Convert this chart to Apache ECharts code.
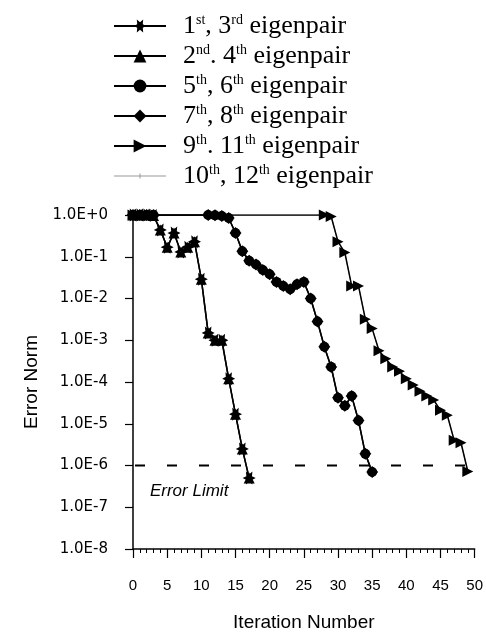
<!DOCTYPE html>
<html><head><meta charset="utf-8">
<script src="https://cdn.jsdelivr.net/npm/echarts@6/dist/echarts.min.js"></script>
<style>html,body{margin:0;padding:0;background:#fff}#c{width:486px;height:637px}</style>
</head><body><div id="c"></div>
<script>
// ---- data ----
const seriesNames = ['1st, 3rd eigenpair', '2nd, 4th eigenpair', '5th, 6th eigenpair',
  '7th, 8th eigenpair', '9th, 11th eigenpair', '10th, 12th eigenpair'];
const legendParts = [
  ['1', 'st', ', 3', 'rd'], ['2', 'nd', '. 4', 'th'], ['5', 'th', ', 6', 'th'],
  ['7', 'th', ', 8', 'th'], ['9', 'th', '. 11', 'th'], ['10', 'th', ', 12', 'th']];

// left curve: 1st/3rd and 2nd/4th eigenpairs
const iterA = [0, 1, 2, 3, 4, 5, 6, 7, 8, 9, 10, 11, 12, 13, 14, 15, 16, 17];
const errA1 = [1, 1, 1, 0.97, 0.44, 0.17, 0.37, 0.13, 0.17, 0.23, 0.029, 0.0015, 0.001, 0.001, 1.2e-4, 1.7e-5, 2.5e-6, 5e-7];
const errA2 = [1, 1, 1, 0.97, 0.44, 0.17, 0.37, 0.13, 0.17, 0.23, 0.029, 0.0015, 0.001, 0.001, 1.2e-4, 1.7e-5, 2.5e-6, 5e-7];

// middle curve: 5th/6th and 7th/8th eigenpairs
const iterB = [0, 1, 2, 3, 11, 12, 13, 14, 15, 16, 17, 18, 19, 20, 21, 22, 23, 24, 25, 26, 27, 28, 29, 30, 31, 32, 33, 34, 35];
const errB1 = [1, 1, 1, 1, 1, 0.98, 0.95, 0.85, 0.37, 0.135, 0.08, 0.065, 0.048, 0.038, 0.025, 0.02, 0.0166, 0.022, 0.025, 0.01, 0.0028, 7e-4, 2.3e-4, 4.2e-5, 2.7e-5, 4.6e-5, 1.2e-5, 1.9e-6, 7e-7];
const errB2 = [1, 1, 1, 1, 1, 0.98, 0.95, 0.85, 0.37, 0.135, 0.08, 0.065, 0.048, 0.038, 0.025, 0.02, 0.0166, 0.022, 0.025, 0.01, 0.0028, 7e-4, 2.3e-4, 4.2e-5, 2.7e-5, 4.6e-5, 1.2e-5, 1.9e-6, 7e-7];

// right curve: 9th/11th and 10th/12th eigenpairs
const iterC = [0, 1, 2, 3, 28, 29, 30, 31, 32, 33, 34, 35, 36, 37, 38, 39, 40, 41, 42, 43, 44, 45, 46, 47, 48, 49];
const errC1 = [1, 1, 1, 1, 1, 0.92, 0.23, 0.126, 0.02, 0.02, 0.0032, 0.0019, 5.6e-4, 3.6e-4, 2.3e-4, 1.8e-4, 1.2e-4, 8.5e-5, 6e-5, 4.6e-5, 3.7e-5, 2.1e-5, 1.6e-5, 4e-6, 3.5e-6, 7.2e-7];
const errC2 = [1, 1, 1, 1, 1, 0.92, 0.23, 0.126, 0.02, 0.02, 0.0032, 0.0019, 5.6e-4, 3.6e-4, 2.3e-4, 1.8e-4, 1.2e-4, 8.5e-5, 6e-5, 4.6e-5, 3.7e-5, 2.1e-5, 1.6e-5, 4e-6, 3.5e-6, 7.2e-7];

// error limit line
const limitIter = [0, 50];
const limitErr = [1e-6, 1e-6];
const limitLabel = 'Error Limit';

const xMin = 0, xMax = 50, xStep = 5;
const yMinExp = -8, yMaxExp = 0;

// ---- symbols ----
function starPath() {
  let d = '';
  for (let k = 0; k < 12; k++) {
    const r = k % 2 === 0 ? 10 : 5;
    const a = k * Math.PI / 6;
    const x = (10 + r * Math.cos(a)).toFixed(2), y = (10 + r * Math.sin(a)).toFixed(2);
    d += (k === 0 ? 'M' : 'L') + x + ',' + y;
  }
  return 'path://' + d + 'Z';
}
const STAR = starPath();
const RTRI = 'path://M0,0L10,5L0,10Z';
const PLUS = 'path://M4,0H6V4H10V6H6V10H4V6H0V4H4Z';

const pairs = (xs, ys) => xs.map((x, i) => [x, ys[i]]);

const legendRich = {};
seriesNames.forEach((n, i) => {
  const p = legendParts[i];
  legendRich[n] = '{m|' + p[0] + '}{s|' + p[1] + '}{m|' + p[2] + '}{s|' + p[3] + '}{m| eigenpair}';
});

function lineSeries(name, data, symbol, size, opts) {
  return Object.assign({
    name: name, type: 'line', data: data, symbol: symbol, symbolSize: size,
    showAllSymbol: true, z: 3,
    lineStyle: { color: '#000', width: 1.5 },
    itemStyle: { color: '#000' }
  }, opts || {});
}

const chart = echarts.init(document.getElementById('c'), null, { renderer: 'canvas' });
chart.setOption({
  animation: false,
  backgroundColor: '#fff',
  grid: { left: 133, right: 11, top: 215, bottom: 84, containLabel: false },
  legend: {
    orient: 'vertical', left: 108, top: 8,
    itemWidth: 52, itemHeight: 16, itemGap: 4,
    padding: 5,
    formatter: name => legendRich[name],
    textStyle: {
      padding: [0, 0, 0, 12],
      rich: {
        m: { fontFamily: '"Liberation Serif", "Times New Roman", serif', fontSize: 26, color: '#000', verticalAlign: 'bottom', lineHeight: 26 },
        s: { fontFamily: '"Liberation Serif", "Times New Roman", serif', fontSize: 14, color: '#000', verticalAlign: 'top', lineHeight: 14 }
      }
    },
    data: [seriesNames[0], seriesNames[1], seriesNames[2], seriesNames[3], seriesNames[4],
      { name: seriesNames[5], icon: 'path://M0,8H52V9H0Z M25.5,6H26.5V11H25.5Z M24,8H28V9H24Z' }]
  },
  xAxis: {
    type: 'value', min: xMin, max: xMax, interval: xStep,
    name: 'Iteration Number', nameLocation: 'middle', nameGap: 64,
    nameTextStyle: { fontFamily: '"Liberation Sans", Arial, sans-serif', fontSize: 19, color: '#000' },
    axisLine: { lineStyle: { color: '#000', width: 1.5 } },
    axisTick: { length: 9, lineStyle: { color: '#000', width: 1.2 } },
    minorTick: { show: true, splitNumber: 5, length: 4, lineStyle: { color: '#000', width: 1 } },
    splitLine: { show: false },
    axisLabel: { margin: 29, color: '#000', fontFamily: '"Liberation Sans", Arial, sans-serif', fontSize: 15 }
  },
  yAxis: {
    type: 'log', logBase: 10, min: Math.pow(10, yMinExp), max: Math.pow(10, yMaxExp), interval: 1,
    name: 'Error Norm', nameLocation: 'middle', nameGap: 92, nameRotate: 90,
    nameTextStyle: { fontFamily: '"Liberation Sans", Arial, sans-serif', fontSize: 19, color: '#000' },
    axisLine: { show: true, lineStyle: { color: '#000', width: 1.5 } },
    axisTick: { show: true, length: 8, lineStyle: { color: '#000', width: 1.2 } },
    minorTick: { show: false },
    splitLine: { show: false },
    axisLabel: {
      margin: 25, color: '#000', fontFamily: '"DejaVu Sans", sans-serif', fontSize: 15,
      formatter: v => { const e = Math.round(Math.log10(v)); return '1.0E' + (e >= 0 ? '+' : '') + e; }
    }
  },
  series: [
    lineSeries(seriesNames[0], pairs(iterA, errA1), STAR, 13),
    lineSeries(seriesNames[1], pairs(iterA, errA2), 'triangle', 11),
    lineSeries(seriesNames[2], pairs(iterB, errB1), 'circle', 10),
    lineSeries(seriesNames[3], pairs(iterB, errB2), 'diamond', 12),
    lineSeries(seriesNames[4], pairs(iterC, errC1), RTRI, 11),
    lineSeries(seriesNames[5], pairs(iterC, errC2), PLUS, 5, {
      z: 2, lineStyle: { color: '#999', width: 1 }, itemStyle: { color: '#999' }
    }),
    {
      name: limitLabel, type: 'line', data: pairs(limitIter, limitErr), symbol: 'none', z: 1,
      silent: true,
      lineStyle: { color: '#000', width: 2, type: [10, 22], dashOffset: -2 },
      markPoint: {
        symbol: 'rect', symbolSize: 0, silent: true,
        label: {
          show: true, position: 'right', offset: [0, 1],
          formatter: limitLabel, color: '#000',
          fontFamily: '"Liberation Sans", Arial, sans-serif', fontStyle: 'italic', fontSize: 17
        },
        data: [{ coord: [1.75, 2.6e-7] }]
      }
    }
  ]
});
</script>
</body></html>
